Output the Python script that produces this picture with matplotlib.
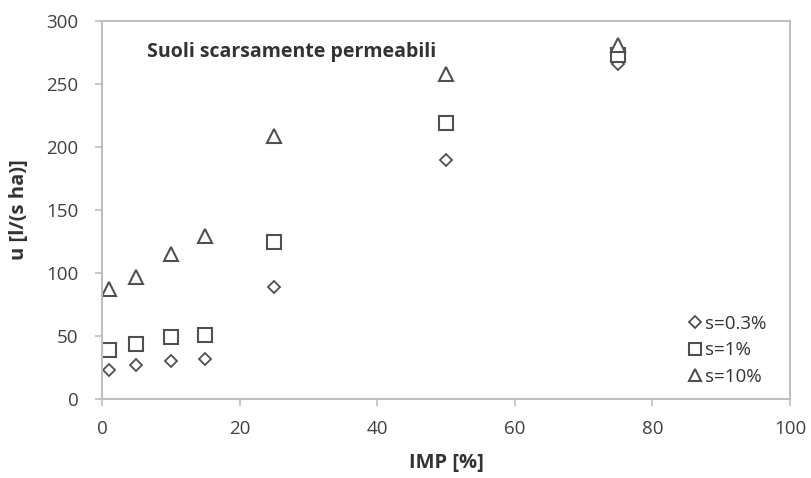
import matplotlib
matplotlib.use("Agg")
import matplotlib.pyplot as plt

imp = [1, 5, 10, 15, 25, 50, 75]
u_s03 = [23, 27, 30, 32, 89, 190, 266]
u_s1 = [38.5, 44, 49.5, 51, 124.5, 219, 273]
u_s10 = [87, 97, 115, 129, 209, 258, 281]
labels = ["s=0.3%", "s=1%", "s=10%"]

plt.rcParams['font.family'] = ['Open Sans', 'DejaVu Sans']

fig = plt.figure(figsize=(8.12, 4.78), dpi=100)
ax = fig.add_axes([102/812, 1-399/478, (790-102)/812, (399-21)/478])

ec = '#505050'
ax.plot(imp, u_s03, linestyle='none', marker='D', markersize=6.5, markerfacecolor='white',
        markeredgecolor=ec, markeredgewidth=1.3, label=labels[0])
ax.plot(imp, u_s1, linestyle='none', marker='s', markersize=10, markerfacecolor='white',
        markeredgecolor=ec, markeredgewidth=1.5, label=labels[1])
ax.plot(imp, u_s10, linestyle='none', marker='^', markersize=10, markerfacecolor='white',
        markeredgecolor=ec, markeredgewidth=1.5, label=labels[2])

ax.set_xlim(0, 100)
ax.set_ylim(0, 300)
ax.set_xticks(range(0, 101, 20))
ax.set_yticks(range(0, 301, 50))

for s in ax.spines.values():
    s.set_color('#bfbfbf')
    s.set_linewidth(1.5)
ax.tick_params(axis='both', colors='#bfbfbf', labelcolor='#404040', labelsize=13.5,
               length=5, width=1.2, direction='out')
ax.tick_params(axis='x', pad=10)
ax.tick_params(axis='y', pad=12)

ax.set_xlabel('IMP [%]', fontsize=14.5, fontweight='bold', color='#333333', labelpad=11)
ax.set_ylabel('u [l/(s ha)]', fontsize=14.5, fontweight='bold', color='#333333', labelpad=12)

ax.text(6.5, 275, 'Suoli scarsamente permeabili', fontsize=14, fontweight='bold',
        color='#333333', va='center', ha='left')

leg = ax.legend(loc='lower right', frameon=False, fontsize=13.5, handletextpad=0.05,
                borderaxespad=0.3, labelspacing=0.45, handlelength=1.0,
                bbox_to_anchor=(0.985, 0.0))
for t in leg.get_texts():
    t.set_color('#333333')
for h in leg.legend_handles:
    h.set_markersize(8 if h.get_marker() != 'D' else 6)

fig.savefig('out.png', dpi=100)
